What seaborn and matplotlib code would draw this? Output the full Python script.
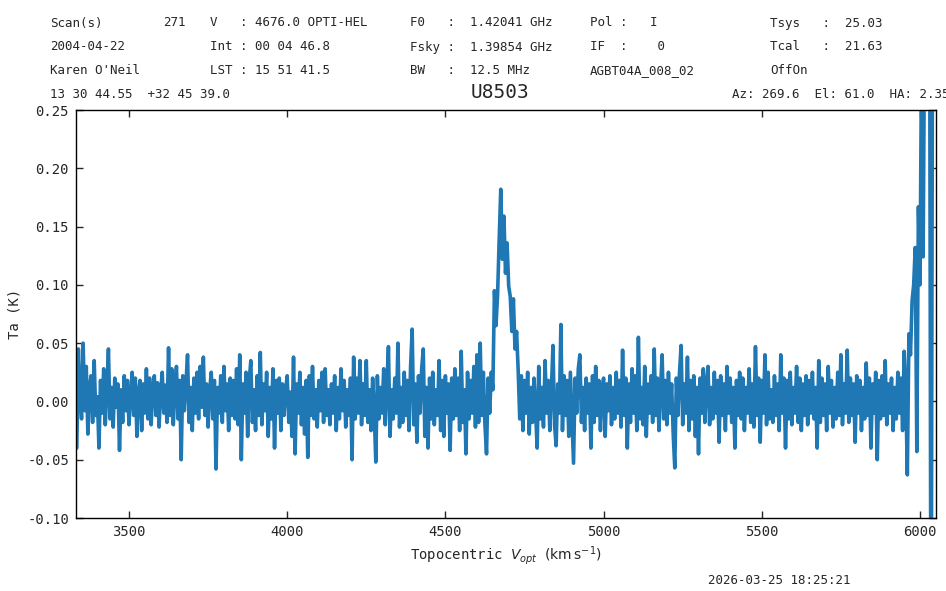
import numpy as np
import pandas as pd
import matplotlib
matplotlib.use("Agg")
import matplotlib.pyplot as plt
import seaborn as sns

# Спектр U8503: скорость начинается с 3335 км/с, шаг канала 5 км/с
v_start = 3335.0
v_step = 5.0

# Ta (K) по участкам спектра
ta_3335 = [-0.040, 0.045, 0.008, -0.015, 0.050, -0.008, 0.030, -0.028, 0.012, 0.022, -0.018, 0.035, -0.012, 0.004, -0.040, 0.018, -0.010, 0.028, -0.020, 0.010,
           0.045, -0.015, 0.012, -0.022, 0.020, -0.005, 0.015, -0.042, 0.010, -0.018, 0.022, -0.008, 0.018, -0.020, 0.005, 0.025, -0.012, 0.020, -0.030, 0.008,
           0.018, -0.025, 0.015, -0.010, 0.028, -0.015, 0.020, -0.020, 0.010, 0.022, -0.012, 0.016, -0.022, 0.008, 0.025, -0.010, 0.014, -0.018, 0.046, -0.012]
ta_3635 = [0.028, -0.020, 0.010, 0.030, -0.015, 0.018, -0.050, 0.022, -0.008, 0.015, 0.040, -0.018, 0.012, -0.025, 0.020, -0.010, 0.025, -0.015, 0.030, -0.005,
           0.038, -0.012, 0.015, -0.022, 0.010, 0.025, -0.015, 0.018, -0.058, 0.012, -0.010, 0.022, -0.018, 0.030, -0.008, 0.015, -0.025, 0.020, -0.012, 0.018,
           -0.015, 0.028, -0.020, 0.040, -0.050, 0.015, -0.010, 0.025, -0.030, 0.018, 0.035, -0.018, 0.010, -0.025, 0.022, -0.012, 0.042, -0.020, 0.015, -0.008]
ta_3935 = [0.025, -0.030, 0.012, -0.015, 0.028, -0.040, 0.018, -0.010, 0.020, -0.025, 0.015, -0.012, 0.010, 0.022, -0.018, 0.008, -0.030, 0.038, -0.045, 0.015,
           -0.010, 0.025, -0.020, 0.012, -0.028, 0.018, -0.048, 0.022, -0.012, 0.030, -0.015, 0.010, -0.022, 0.018, -0.008, 0.025, -0.018, 0.028, -0.012, 0.010,
           -0.020, 0.015, -0.010, 0.022, -0.025, 0.012, -0.015, 0.028, -0.008, 0.018, -0.022, 0.010, -0.012, 0.020, -0.050, 0.038, -0.015, 0.020, -0.010, 0.035]
ta_4235 = [-0.020, 0.015, -0.012, 0.035, -0.018, 0.010, -0.025, 0.020, -0.008, -0.052, 0.022, -0.015, 0.012, -0.010, 0.028, -0.020, 0.015, 0.047, -0.030, 0.010,
           -0.015, 0.020, -0.010, 0.050, -0.022, 0.012, -0.018, 0.025, -0.012, 0.018, -0.025, 0.030, 0.062, -0.020, 0.015, -0.035, 0.022, -0.010, 0.028, 0.045,
           -0.030, 0.012, -0.040, 0.020, -0.015, 0.025, -0.020, 0.010, -0.012, 0.035, -0.025, 0.018, -0.030, 0.022, -0.010, 0.015, -0.042, 0.020, -0.015, 0.028,
           -0.012, 0.020, -0.025, 0.043, -0.018, 0.010, -0.045, 0.025, -0.015, 0.018, -0.010, 0.030, -0.022, 0.040, -0.018, 0.050, -0.012, 0.025, -0.020, -0.045]
# линия HI галактики
ta_4635 = [0.020, -0.010, 0.025, 0.010, 0.095, 0.065, 0.092, 0.139, 0.182, 0.122, 0.159, 0.110, 0.136, 0.099, 0.090, 0.060, 0.088, 0.045, 0.060, 0.027]
ta_4735 = [-0.015, 0.022, -0.025, 0.018, -0.010, 0.025, -0.028, 0.012, -0.018, 0.020, -0.008, -0.040, 0.030, -0.015, 0.012, -0.022, 0.035, -0.010, 0.018, -0.025,
           0.010, 0.048, -0.020, -0.038, 0.015, -0.010, 0.066, -0.025, 0.022, -0.012, 0.018, -0.030, 0.025, -0.015, -0.053, 0.020, -0.010, 0.028, 0.040, -0.018,
           0.012, -0.025, 0.020, -0.010, 0.015, -0.040, 0.022, -0.018, 0.030, -0.012, 0.018, -0.025, 0.010, 0.020, -0.030, 0.015, -0.008, 0.022, -0.020, 0.012]
ta_5035 = [-0.015, 0.025, -0.010, 0.018, -0.022, 0.044, -0.012, 0.020, -0.040, 0.015, -0.018, 0.028, -0.010, 0.022, -0.025, 0.055, -0.015, 0.012, -0.020, 0.030,
           -0.030, 0.015, -0.010, 0.022, -0.018, 0.045, -0.012, 0.020, -0.025, 0.012, 0.040, -0.015, 0.018, -0.020, 0.025, -0.010, 0.015, -0.028, -0.057, 0.020,
           -0.012, 0.025, 0.048, -0.020, 0.015, -0.010, 0.038, -0.025, 0.018, -0.015, 0.022, -0.030, 0.012, -0.045, 0.020, -0.010, 0.028, -0.018, 0.015, 0.030]
ta_5335 = [-0.020, 0.012, -0.015, 0.025, -0.010, 0.018, -0.035, 0.022, -0.012, 0.015, -0.025, 0.030, -0.010, 0.020, -0.018, 0.012, -0.040, 0.018, -0.012, 0.025,
           -0.015, 0.020, -0.025, 0.012, -0.010, 0.028, -0.018, 0.015, -0.022, 0.047, -0.012, 0.020, -0.035, 0.018, -0.010, 0.040, -0.020, 0.025, -0.015, 0.010,
           -0.018, 0.022, -0.012, 0.015, -0.025, 0.040, -0.010, 0.020, -0.040, 0.018, -0.015, 0.025, -0.020, 0.012, -0.010, 0.030, -0.018, 0.020, -0.025, 0.015]
ta_5635 = [-0.012, 0.022, -0.020, 0.018, -0.010, 0.025, -0.015, 0.012, -0.040, 0.035, -0.018, 0.020, -0.012, 0.015, -0.025, 0.030, -0.010, 0.018, -0.022, 0.012,
           -0.015, 0.025, -0.012, 0.040, -0.020, 0.015, -0.010, 0.044, -0.018, 0.020, -0.012, 0.015, -0.035, 0.022, -0.010, 0.018, -0.025, 0.012, -0.015, 0.033,
           -0.012, 0.020, -0.040, 0.015, -0.010, 0.025, -0.050, 0.018, -0.015, 0.022, -0.012, 0.035, -0.020, 0.015, -0.010, 0.020, -0.025, 0.012, -0.015, 0.025]
# край полосы (RFI / спад фильтра)
ta_5935 = [-0.010, 0.020, -0.025, 0.043, 0.010, -0.063, 0.058, 0.040, 0.086, 0.100, 0.132, -0.043, 0.167, 0.100, 0.300, 0.124, 0.350, 0.400, 0.380, 0.420,
           -0.300, 0.400, 0.450]

ta = ta_3335 + ta_3635 + ta_3935 + ta_4235 + ta_4635 + ta_4735 + ta_5035 + ta_5335 + ta_5635 + ta_5935
df = pd.DataFrame({'v': v_start + v_step * np.arange(len(ta)), 'ta': ta})

sns.set_style('ticks')
mono = ['DejaVu Sans Mono']
plt.rcParams['font.family'] = mono
plt.rcParams['mathtext.fontset'] = 'dejavusans'

fig = plt.figure(figsize=(9.46, 5.91), dpi=100)
ax = fig.add_axes([76 / 946, 1 - 518 / 591, 860 / 946, 408 / 591])

sns.lineplot(data=df, x='v', y='ta', ax=ax, color='#1f77b4', linewidth=2.6,
             estimator=None, sort=False)

ax.set_xlim(3332.5, 6050.6)
ax.set_ylim(-0.10, 0.25)
ax.set_xticks([3500, 4000, 4500, 5000, 5500, 6000])
ax.set_yticks([-0.10, -0.05, 0.00, 0.05, 0.10, 0.15, 0.20, 0.25])
ax.yaxis.set_major_formatter(matplotlib.ticker.FormatStrFormatter('%.2f'))
ax.tick_params(direction='in', top=True, right=True, length=5, width=1, labelsize=10, pad=5)
for s in ax.spines.values():
    s.set_linewidth(1.0)
    s.set_color('black')

ax.set_xlabel(r'Topocentric $V_{opt}$ $(\mathrm{km\,s^{-1}})$', fontsize=10)
ax.set_ylabel('Ta (K)', fontsize=10)

# шапка с параметрами наблюдения
def hdr(x, y, s, size=9):
    fig.text(x / 946, 1 - y / 591, s, fontsize=size, va='center', ha='left', family=mono)

hdr(50, 23, 'Scan(s)')
hdr(163, 23, '271')
hdr(210, 23, 'V   : 4676.0 OPTI-HEL')
hdr(410, 23, 'F0   :  1.42041 GHz')
hdr(590, 23, 'Pol :   I')
hdr(770, 23, 'Tsys   :  25.03')

hdr(50, 47, '2004-04-22')
hdr(210, 47, 'Int : 00 04 46.8')
hdr(410, 47, 'Fsky :  1.39854 GHz')
hdr(590, 47, 'IF  :    0')
hdr(770, 47, 'Tcal   :  21.63')

hdr(50, 71, "Karen O'Neil")
hdr(210, 71, 'LST : 15 51 41.5')
hdr(410, 71, 'BW   :  12.5 MHz')
hdr(590, 71, 'AGBT04A_008_02')
hdr(770, 71, 'OffOn')

hdr(50, 95, '13 30 44.55  +32 45 39.0')
hdr(732, 95, 'Az: 269.6  El: 61.0  HA: 2.35')
fig.text(500 / 946, 1 - 93 / 591, 'U8503', fontsize=14, ha='center', va='center', family=mono)

hdr(708, 581, '2026-03-25 18:25:21')

fig.savefig('out.png', dpi=100)
